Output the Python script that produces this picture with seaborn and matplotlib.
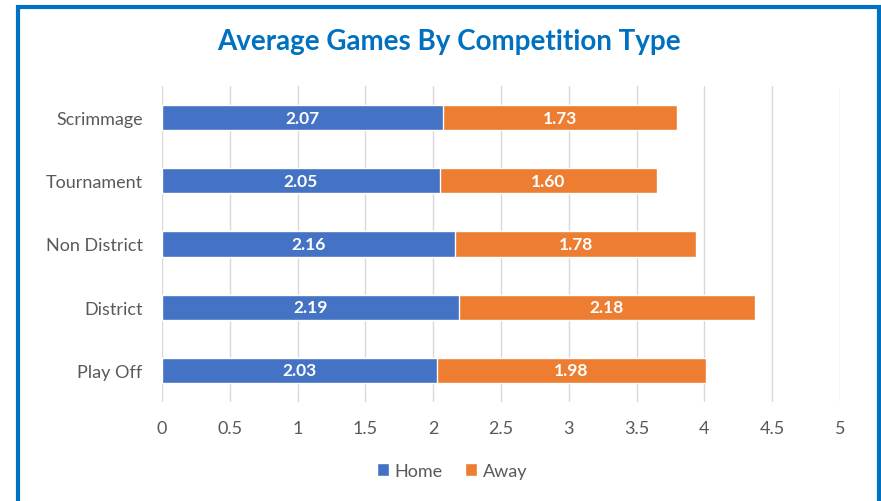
import matplotlib
matplotlib.use("Agg")
import matplotlib.pyplot as plt
from matplotlib.patches import Rectangle, Patch
import seaborn as sns
import pandas as pd

categories = ["Scrimmage", "Tournament", "Non District", "District", "Play Off"]
home = [2.07, 2.05, 2.16, 2.19, 2.03]
away = [1.73, 1.60, 1.78, 2.18, 1.98]
xticks = [0, 0.5, 1, 1.5, 2, 2.5, 3, 3.5, 4, 4.5, 5]
xtick_labels = ["0", "0.5", "1", "1.5", "2", "2.5", "3", "3.5", "4", "4.5", "5"]

HOME_C = "#4472C4"
AWAY_C = "#ED7D31"
TEXT_C = "#595959"
TITLE_C = "#0070C0"

sns.set_theme(style="white")
plt.rcParams["font.family"] = ["Lato", "DejaVu Sans"]

df = pd.DataFrame({"category": categories, "home": home, "away": away})
df["total"] = df["home"] + df["away"]

fig = plt.figure(figsize=(8.81, 5.02), dpi=100)
ax = fig.add_axes([162 / 881, 1 - 403 / 502, (840 - 162) / 881, (403 - 87) / 502])

# stacked bars: full total in Away colour, Home drawn over it
sns.barplot(data=df, x="total", y="category", order=categories, color=AWAY_C,
            width=0.4, saturation=1, ax=ax, zorder=2)
sns.barplot(data=df, x="home", y="category", order=categories, color=HOME_C,
            width=0.4, saturation=1, ax=ax, zorder=3)

for i, (h, a) in enumerate(zip(home, away)):
    ax.text(h / 2, i, f"{h:.2f}", ha="center", va="center", color="white",
            fontsize=12.5, fontweight="bold", zorder=4)
    ax.text(h + a / 2, i, f"{a:.2f}", ha="center", va="center", color="white",
            fontsize=12.5, fontweight="bold", zorder=4)

ax.set_xlim(0, 5)
ax.set_ylim(len(categories) - 0.5, -0.5)
ax.set_xticks(xticks)
ax.set_xticklabels(xtick_labels)
ax.xaxis.grid(True, color="#D9D9D9", linewidth=1)
ax.set_axisbelow(True)
for s in ax.spines.values():
    s.set_visible(False)
ax.tick_params(axis="both", length=0, labelsize=13, labelcolor=TEXT_C)
ax.tick_params(axis="x", pad=13)
ax.tick_params(axis="y", pad=14)
ax.set_xlabel("")
ax.set_ylabel("")

fig.text(449 / 881, 1 - 42 / 502, "Average Games By Competition Type",
         ha="center", va="center", color=TITLE_C, fontsize=20, fontweight="bold")

handles = [Patch(facecolor=HOME_C, label="Home"), Patch(facecolor=AWAY_C, label="Away")]
fig.legend(handles=handles, loc="center", bbox_to_anchor=(452 / 881, 1 - 472 / 502),
           ncol=2, frameon=False, fontsize=13, handlelength=0.7, handleheight=0.7,
           handletextpad=0.3, columnspacing=1.2, labelcolor=TEXT_C)

fig.patches.append(Rectangle((18 / 881, -0.1), (879 - 18) / 881, 1.1 - 7.5 / 502,
                             transform=fig.transFigure, fill=False,
                             edgecolor=TITLE_C, linewidth=3, zorder=10))

fig.savefig("out.png", dpi=100)
